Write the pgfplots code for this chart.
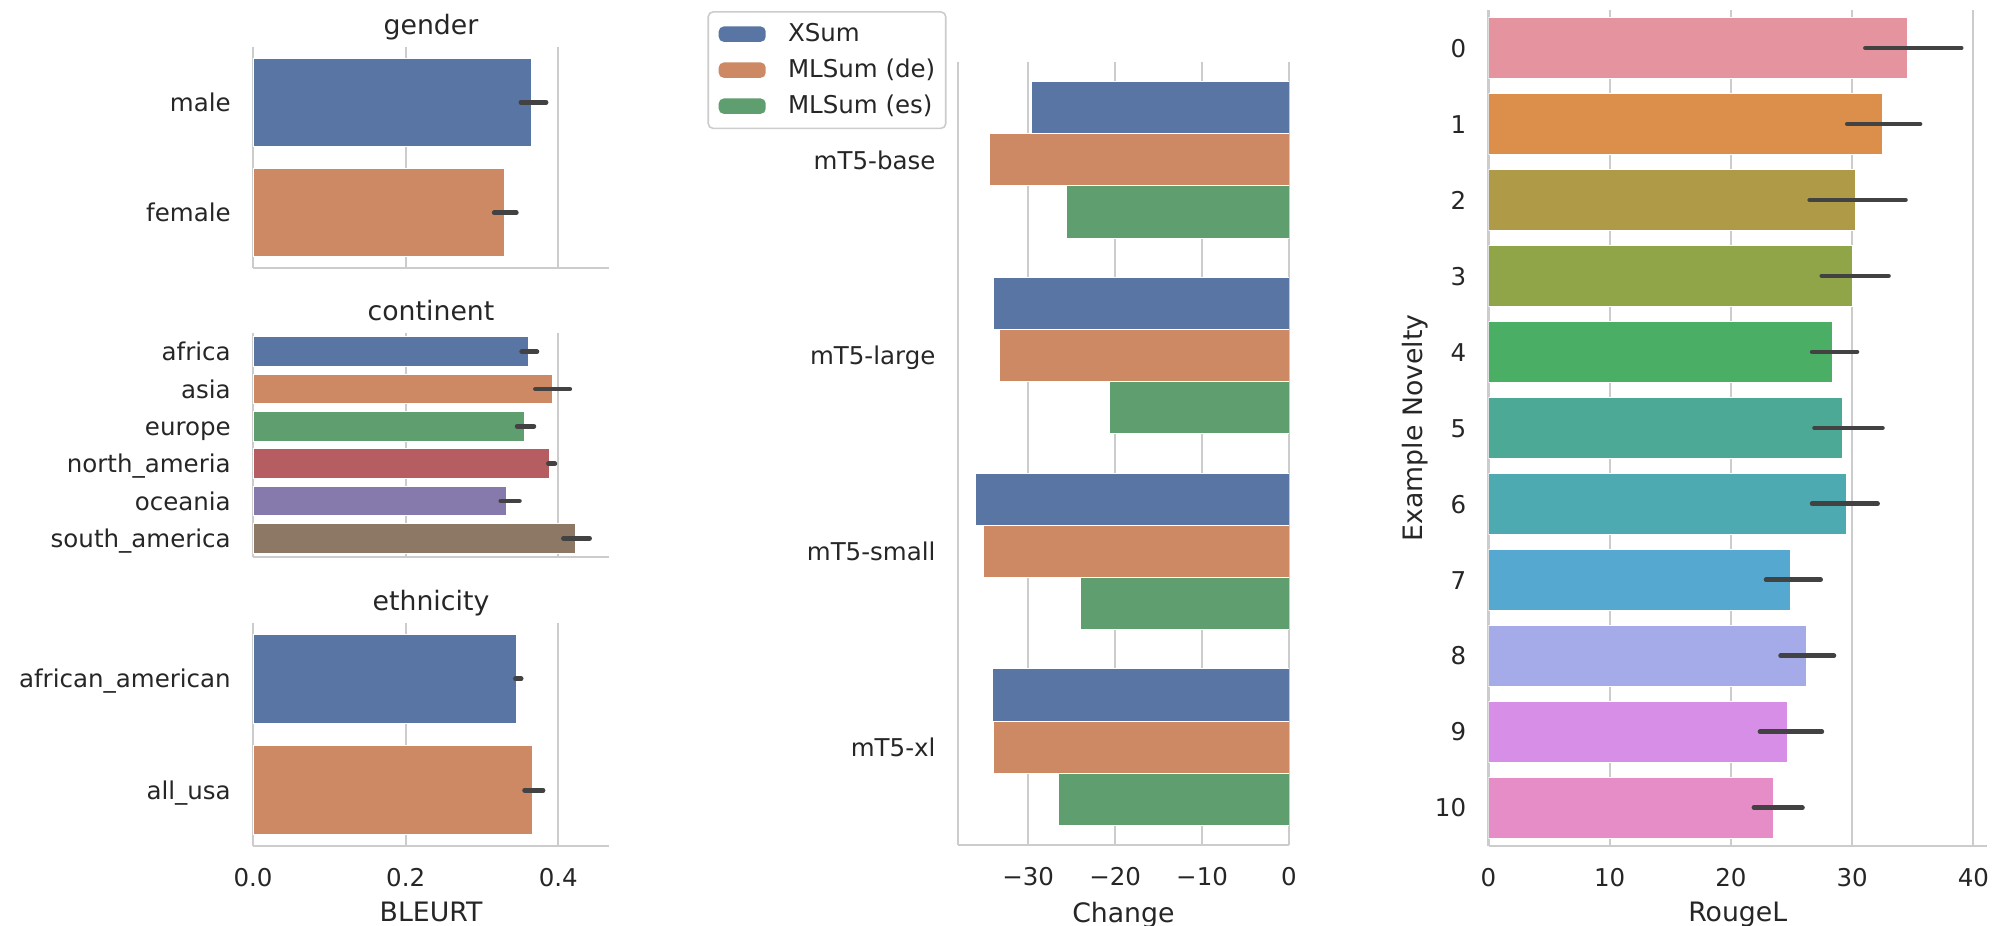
\documentclass[border=0pt]{standalone}
\usepackage{fontspec}
\setmainfont{DejaVu Sans}
\usepackage{pgfplots}
\pgfplotsset{compat=1.18}

\newcommand\tickfont{\fontsize{12.25pt}{14pt}\selectfont}
\newcommand\labfont{\fontsize{13.36pt}{16pt}\selectfont}

\definecolor{txt}{HTML}{262626}
\definecolor{gridc}{HTML}{CCCCCC}
\definecolor{errc}{HTML}{424242}
\definecolor{dblue}{HTML}{5875A4}
\definecolor{dorange}{HTML}{CC8963}
\definecolor{dgreen}{HTML}{5F9E6E}
\definecolor{dred}{HTML}{B55D60}
\definecolor{dpurple}{HTML}{857AAB}
\definecolor{dbrown}{HTML}{8D7866}
\definecolor{r0}{HTML}{E5949F}
\definecolor{r1}{HTML}{DB8F4B}
\definecolor{r2}{HTML}{AF9A47}
\definecolor{r3}{HTML}{8FA548}
\definecolor{r4}{HTML}{4AAF64}
\definecolor{r5}{HTML}{4BA996}
\definecolor{r6}{HTML}{4CAAB0}
\definecolor{r7}{HTML}{55A9D0}
\definecolor{r8}{HTML}{A5AAE8}
\definecolor{r9}{HTML}{D78EE7}
\definecolor{r10}{HTML}{E68CC6}

\pgfplotsset{
  sbase/.style={
    scale only axis,
    axis x line*=bottom, axis y line*=left,
    axis line style={-, draw=gridc, line width=1pt},
    every inner x axis line/.append style={-},
    every outer x axis line/.append style={-},
    every inner y axis line/.append style={-},
    every outer y axis line/.append style={-},
    xmajorgrids, ymajorgrids=false,
    major grid style={draw=gridc, line width=1.1pt},
    major tick length=0pt,
    xtick style={draw=none}, ytick style={draw=none},
    y dir=reverse,
    tick label style={font=\tickfont, text=txt},
    yticklabel style={anchor=base east, inner sep=0pt, xshift=-11pt, yshift=-4.6pt},
    xticklabel style={anchor=north, inner sep=0pt, yshift=-11.15pt},
    label style={font=\labfont, text=txt},
    title style={font=\labfont, text=txt, at={(axis description cs:0.5,1)}, anchor=base, inner sep=0pt, yshift=0.4pt},
  },
  hb/.style={xbar, bar width=#1, draw=white, line width=0.5pt},
  err/.style={draw=errc, line width=2.35pt, line cap=round, mark=none},
}

\begin{document}
\begin{tikzpicture}
\path[use as bounding box] (0pt,0pt) rectangle (996pt,-463pt);

% ---------------- gender ----------------
\begin{axis}[sbase, at={(126.55pt,-23.5pt)}, anchor=north west,
  width=177.9pt, height=110.5pt,
  xmin=0, xmax=0.4663, ymin=-0.5, ymax=1.5,
  xtick={0,0.2,0.4}, xticklabels={},
  ytick={0,1}, yticklabels={male,female},
  title={gender}]
\addplot[hb=0.8, fill=dblue] coordinates {(0.365,0)};
\addplot[hb=0.8, fill=dorange] coordinates {(0.3295,1)};
\addplot[err] coordinates {(0.351,0) (0.384,0)};
\addplot[err] coordinates {(0.316,1) (0.345,1)};
\end{axis}

% ---------------- continent ----------------
\begin{axis}[sbase, at={(126.55pt,-166.5pt)}, anchor=north west,
  width=177.9pt, height=112pt,
  xmin=0, xmax=0.4663, ymin=-0.5, ymax=5.5,
  xtick={0,0.2,0.4}, xticklabels={},
  ytick={0,1,2,3,4,5}, yticklabels={africa,asia,europe,north\_ameria,oceania,south\_america},
  title={continent}]
\addplot[hb=0.8, fill=dblue] coordinates {(0.361,0)};
\addplot[hb=0.8, fill=dorange] coordinates {(0.392,1)};
\addplot[hb=0.8, fill=dgreen] coordinates {(0.356,2)};
\addplot[hb=0.8, fill=dred] coordinates {(0.388,3)};
\addplot[hb=0.8, fill=dpurple] coordinates {(0.332,4)};
\addplot[hb=0.8, fill=dbrown] coordinates {(0.4224,5)};
\addplot[err] coordinates {(0.352,0) (0.372,0)};
\addplot[err] coordinates {(0.370,1) (0.415,1)};
\addplot[err] coordinates {(0.346,2) (0.368,2)};
\addplot[err] coordinates {(0.387,3) (0.3955,3)};
\addplot[err] coordinates {(0.3246,4) (0.349,4)};
\addplot[err] coordinates {(0.4067,5) (0.441,5)};
\end{axis}

% ---------------- ethnicity ----------------
\begin{axis}[sbase, at={(126.55pt,-311.5pt)}, anchor=north west,
  width=177.9pt, height=111.5pt,
  xmin=0, xmax=0.4663, ymin=-0.5, ymax=1.5,
  xtick={0,0.2,0.4}, xticklabels={0.0,0.2,0.4},
  ytick={0,1}, yticklabels={african\_american,all\_usa},
  title={ethnicity},
  xlabel={BLEURT},
  xlabel style={at={(axis description cs:0.5,0)}, anchor=north, inner sep=0pt, yshift=-27.75pt}]
\addplot[hb=0.8, fill=dblue] coordinates {(0.3455,0)};
\addplot[hb=0.8, fill=dorange] coordinates {(0.366,1)};
\addplot[err] coordinates {(0.3438,0) (0.3513,0)};
\addplot[err] coordinates {(0.3558,1) (0.380,1)};
\end{axis}

% ---------------- middle: Change ----------------
\begin{axis}[sbase, at={(478.9pt,-31pt)}, anchor=north west,
  width=165.6pt, height=391.5pt,
  xmin=-38.1, xmax=0, ymin=-0.5, ymax=3.5,
  xtick={-30,-20,-10,0}, xticklabels={−30,−20,−10,0},
  ytick={0,1,2,3}, yticklabels={mT5-base,mT5-large,mT5-small,mT5-xl},
  xlabel={Change},
  xlabel style={at={(axis description cs:0.5,0)}, anchor=north, inner sep=0pt, yshift=-28.25pt},
  legend cell align=left,
  legend image code/.code={\path[#1, draw=none] (0pt,-3.83pt) rectangle (23.5pt,3.83pt);},
  legend style={at={(axis description cs:-0.756,1.0651)}, anchor=north west,
    draw=gridc, line width=0.8pt, rounded corners=2.5pt, fill=white,
    font=\tickfont, text=txt,
    inner xsep=5.25pt, inner ysep=5.5pt, row sep=6.7pt, column sep=11.15pt,
    nodes={inner sep=0pt, text height=9.3pt, text depth=2pt}}]
\addplot[hb=0.2667, fill=dblue] coordinates {(-29.65,-0.2667) (-34.05,0.7333) (-36.1,1.7333) (-34.15,2.7333)};
\addlegendentry{XSum}
\addplot[hb=0.2667, fill=dorange] coordinates {(-34.4,0) (-33.3,1) (-35.2,2) (-33.95,3)};
\addlegendentry{MLSum (de)}
\addplot[hb=0.2667, fill=dgreen] coordinates {(-25.55,0.2667) (-20.7,1.2667) (-24.0,2.2667) (-26.5,3.2667)};
\addlegendentry{MLSum (es)}
\end{axis}

% ---------------- right: RougeL ----------------
\begin{axis}[sbase, at={(744.25pt,-5pt)}, anchor=north west,
  width=249.2pt, height=417.85pt,
  xmin=0, xmax=41.12, ymin=-0.5, ymax=10.5,
  xtick={0,10,20,30,40}, xticklabels={0,10,20,30,40},
  ytick={0,1,2,3,4,5,6,7,8,9,10}, yticklabels={0,1,2,3,4,5,6,7,8,9,10},
  xlabel={RougeL},
  xlabel style={at={(axis description cs:0.5,0)}, anchor=north, inner sep=0pt, yshift=-27.9pt},
  ylabel={Example Novelty},
  ylabel style={at={(axis description cs:-0.1334,0.5)}, anchor=base, inner sep=0pt}]
\addplot[hb=0.8, fill=r0] coordinates {(34.6,0)};
\addplot[hb=0.8, fill=r1] coordinates {(32.5,1)};
\addplot[hb=0.8, fill=r2] coordinates {(30.3,2)};
\addplot[hb=0.8, fill=r3] coordinates {(30.05,3)};
\addplot[hb=0.8, fill=r4] coordinates {(28.4,4)};
\addplot[hb=0.8, fill=r5] coordinates {(29.2,5)};
\addplot[hb=0.8, fill=r6] coordinates {(29.56,6)};
\addplot[hb=0.8, fill=r7] coordinates {(24.9,7)};
\addplot[hb=0.8, fill=r8] coordinates {(26.2,8)};
\addplot[hb=0.8, fill=r9] coordinates {(24.7,9)};
\addplot[hb=0.8, fill=r10] coordinates {(23.5,10)};
\addplot[err] coordinates {(31.1,0) (39.0,0)};
\addplot[err] coordinates {(29.6,1) (35.6,1)};
\addplot[err] coordinates {(26.5,2) (34.4,2)};
\addplot[err] coordinates {(27.5,3) (33.0,3)};
\addplot[err] coordinates {(26.7,4) (30.4,4)};
\addplot[err] coordinates {(26.9,5) (32.5,5)};
\addplot[err] coordinates {(26.7,6) (32.1,6)};
\addplot[err] coordinates {(22.9,7) (27.4,7)};
\addplot[err] coordinates {(24.1,8) (28.5,8)};
\addplot[err] coordinates {(22.4,9) (27.5,9)};
\addplot[err] coordinates {(21.9,10) (25.9,10)};
\end{axis}
\end{tikzpicture}
\end{document}
